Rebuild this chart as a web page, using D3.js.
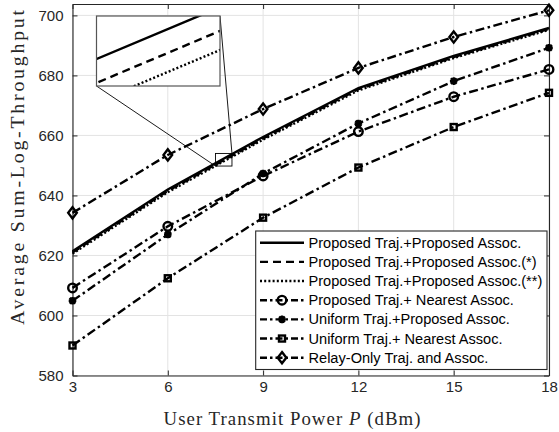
<!DOCTYPE html>
<html>
<head>
<meta charset="utf-8">
<script src="https://cdn.jsdelivr.net/npm/d3@7/dist/d3.min.js"></script>
<style>
  html, body { margin: 0; padding: 0; background: #fff; }
  svg { display: block; }
</style>
</head>
<body>
<svg id="chart" width="559" height="432"></svg>
<script>
// Transmit power (dBm) on the x axis
const powerDbm = [3, 6, 9, 12, 15, 18];
const xTicks = [3, 6, 9, 12, 15, 18];
const yTicks = [580, 600, 620, 640, 660, 680, 700];

// Average sum-log-throughput for each scheme
const propPropVals   = [621.4, 642.0, 659.5, 675.8, 686.5, 695.8];
const propPropStar   = [621.0, 641.5, 659.0, 675.4, 686.1, 695.5];
const propPropStar2  = [620.6, 641.1, 658.6, 675.0, 685.8, 695.2];
const propNearVals   = [609.2, 629.7, 646.5, 661.3, 672.9, 682.0];
const unifPropVals   = [604.9, 627.0, 647.3, 664.0, 678.1, 689.2];
const unifNearVals   = [590.0, 612.4, 632.6, 649.3, 662.8, 674.2];
const relayOnlyVals  = [634.2, 653.5, 668.8, 682.5, 692.8, 701.7];

const seriesNames = [
  "Proposed Traj.+Proposed Assoc.",
  "Proposed Traj.+Proposed Assoc.(*)",
  "Proposed Traj.+Proposed Assoc.(**)",
  "Proposed Traj.+ Nearest Assoc.",
  "Uniform Traj.+Proposed Assoc.",
  "Uniform Traj.+ Nearest Assoc.",
  "Relay-Only Traj. and Assoc."
];

// Region highlighted by the small rectangle and the magnified view shown in the inset
const markBoxX = [7.5, 8.02];
const markBoxY = [649.8, 654.0];
const insetX = [7.65, 7.837];
const insetY = [651.06, 652.53];

const DASHDOT = "9,3.5,2.5,3.5";
const LW = 2.4;
const series = [
  { name: seriesNames[0], values: propPropVals,  dash: null,      marker: null },
  { name: seriesNames[1], values: propPropStar,  dash: "8,5",     marker: null },
  { name: seriesNames[2], values: propPropStar2, dash: "2,2.2",   marker: null },
  { name: seriesNames[3], values: propNearVals,  dash: DASHDOT,   marker: "circle" },
  { name: seriesNames[4], values: unifPropVals,  dash: DASHDOT,   marker: "asterisk" },
  { name: seriesNames[5], values: unifNearVals,  dash: DASHDOT,   marker: "square" },
  { name: seriesNames[6], values: relayOnlyVals, dash: DASHDOT,   marker: "diamond" }
];

const svg = d3.select("#chart");
const plot = { left: 72.5, right: 549, top: 4, bottom: 375.5 };
const AXIS = "#262626";

const x = d3.scaleLinear().domain([3, 18]).range([plot.left, plot.right]);
const y = d3.scaleLinear().domain([580, 703.8]).range([plot.bottom, plot.top]);

// grid
const grid = svg.append("g").attr("stroke", "#e3e3e3").attr("stroke-width", 1);
grid.selectAll(".gx").data(xTicks).join("line")
  .attr("x1", d => x(d)).attr("x2", d => x(d))
  .attr("y1", plot.top).attr("y2", plot.bottom);
grid.selectAll(".gy").data(yTicks).join("line")
  .attr("x1", plot.left).attr("x2", plot.right)
  .attr("y1", d => y(d)).attr("y2", d => y(d));

// axes (ticks point inward, on all four sides)
function styleAxis(g) {
  g.selectAll("path, line").attr("stroke", AXIS);
  g.selectAll("text").attr("fill", AXIS)
    .style("font-family", "'Liberation Sans', Arial, sans-serif")
    .style("font-size", "15px");
}
svg.append("g").attr("transform", `translate(0,${plot.bottom})`)
  .call(d3.axisBottom(x).tickValues(xTicks).tickSizeInner(-5).tickSizeOuter(0).tickPadding(6))
  .call(styleAxis);
svg.append("g").attr("transform", `translate(0,${plot.top})`)
  .call(d3.axisTop(x).tickValues(xTicks).tickSizeInner(-5).tickSizeOuter(0).tickFormat(""))
  .call(styleAxis);
svg.append("g").attr("transform", `translate(${plot.left},0)`)
  .call(d3.axisLeft(y).tickValues(yTicks).tickSizeInner(-5).tickSizeOuter(0).tickPadding(9))
  .call(styleAxis);
svg.append("g").attr("transform", `translate(${plot.right},0)`)
  .call(d3.axisRight(y).tickValues(yTicks).tickSizeInner(-5).tickSizeOuter(0).tickFormat(""))
  .call(styleAxis);
svg.selectAll(".domain").attr("stroke-width", 1.1);

// marker drawing
function drawMarker(g, type, cx, cy) {
  const common = s => s.attr("fill", "none").attr("stroke", "#000").attr("stroke-width", LW);
  if (type === "circle") {
    g.append("circle").attr("cx", cx).attr("cy", cy).attr("r", 4.3).call(common);
  } else if (type === "square") {
    g.append("rect").attr("x", cx - 3).attr("y", cy - 3).attr("width", 6).attr("height", 6).call(common);
  } else if (type === "diamond") {
    g.append("path").attr("d", `M${cx},${cy - 5.6}L${cx + 4.3},${cy}L${cx},${cy + 5.6}L${cx - 4.3},${cy}Z`).call(common);
  } else if (type === "asterisk") {
    const r = 3.8, rd = r * 0.75;
    g.append("path").attr("d",
      `M${cx - r},${cy}L${cx + r},${cy}M${cx},${cy - r}L${cx},${cy + r}` +
      `M${cx - rd},${cy - rd}L${cx + rd},${cy + rd}M${cx - rd},${cy + rd}L${cx + rd},${cy - rd}`)
      .call(common);
  }
}

// series lines
const line = d3.line().x((d, i) => x(powerDbm[i])).y(d => y(d));
const linesG = svg.append("g");
series.slice().reverse().forEach(s => {
  linesG.append("path").datum(s.values)
    .attr("d", line).attr("fill", "none").attr("stroke", "#000")
    .attr("stroke-width", LW).attr("stroke-dasharray", s.dash);
  if (s.marker) {
    s.values.forEach((v, i) => drawMarker(linesG, s.marker, x(powerDbm[i]), y(v)));
  }
});

// marked region and connectors to the inset
const inset = { left: 96.5, right: 220, top: 16, bottom: 86 };
const bx0 = x(markBoxX[0]), bx1 = x(markBoxX[1]);
const by0 = y(markBoxY[1]), by1 = y(markBoxY[0]);
svg.append("rect").attr("x", bx0).attr("y", by0)
  .attr("width", bx1 - bx0).attr("height", by1 - by0)
  .attr("fill", "none").attr("stroke", "#000").attr("stroke-width", 0.9);
svg.append("line").attr("x1", inset.left).attr("y1", inset.bottom).attr("x2", bx0).attr("y2", by1)
  .attr("stroke", "#000").attr("stroke-width", 0.9);
svg.append("line").attr("x1", inset.right).attr("y1", inset.top).attr("x2", bx1).attr("y2", by0)
  .attr("stroke", "#000").attr("stroke-width", 0.9);

// inset view
const ix = d3.scaleLinear().domain(insetX).range([inset.left, inset.right]);
const iy = d3.scaleLinear().domain(insetY).range([inset.bottom, inset.top]);
svg.append("clipPath").attr("id", "insetClip").append("rect")
  .attr("x", inset.left).attr("y", inset.top)
  .attr("width", inset.right - inset.left).attr("height", inset.bottom - inset.top);
svg.append("rect").attr("x", inset.left).attr("y", inset.top)
  .attr("width", inset.right - inset.left).attr("height", inset.bottom - inset.top)
  .attr("fill", "#fff");
const iline = d3.line().x((d, i) => ix(powerDbm[i])).y(d => iy(d));
const insetG = svg.append("g").attr("clip-path", "url(#insetClip)");
series.slice(0, 3).forEach(s => {
  insetG.append("path").datum(s.values).attr("d", iline)
    .attr("fill", "none").attr("stroke", "#000").attr("stroke-width", 2.4)
    .attr("stroke-dasharray", s.dash);
});
svg.append("rect").attr("x", inset.left).attr("y", inset.top)
  .attr("width", inset.right - inset.left).attr("height", inset.bottom - inset.top)
  .attr("fill", "none").attr("stroke", "#555").attr("stroke-width", 1.2);

// legend
const lg = { left: 255.7, right: 547, top: 231, bottom: 369.5 };
const legend = svg.append("g");
legend.append("rect").attr("x", lg.left).attr("y", lg.top)
  .attr("width", lg.right - lg.left).attr("height", lg.bottom - lg.top)
  .attr("fill", "#fff").attr("stroke", AXIS).attr("stroke-width", 1.1);
const rowY = d3.scaleLinear().domain([0, 6]).range([242.7, 357.7]);
const legendTexts = [];
series.forEach((s, i) => {
  const yy = rowY(i);
  legend.append("line").attr("x1", 260).attr("x2", 304).attr("y1", yy).attr("y2", yy)
    .attr("stroke", "#000").attr("stroke-width", LW)
    .attr("stroke-dasharray", s.marker ? "7,3,2.5,3" : s.dash);
  if (s.marker) drawMarker(legend, s.marker, 282, yy);
  legendTexts.push(legend.append("text").attr("x", 308.5).attr("y", yy).attr("dy", "0.35em")
    .style("font-family", "'Liberation Sans', Arial, sans-serif")
    .style("font-size", "14px").attr("fill", "#000")
    .text(s.name));
});
// size the legend font so the longest entry ends just inside the frame
const longest = d3.max(legendTexts, t => t.node().getComputedTextLength());
const legendFont = Math.min(14.6, 14 * 234 / longest);
legendTexts.forEach(t => t.style("font-size", legendFont + "px"));

// axis titles
const xt = svg.append("text").attr("x", 292).attr("y", 425).attr("text-anchor", "middle")
  .attr("textLength", 257).attr("lengthAdjust", "spacing")
  .style("font-family", "'Liberation Serif', 'Times New Roman', serif")
  .style("font-size", "18.8px").attr("fill", AXIS);
xt.append("tspan").text("User Transmit Power ");
xt.append("tspan").style("font-style", "italic").text("P");
xt.append("tspan").text(" (dBm)");

svg.append("text").attr("transform", "translate(23.5,167.5) rotate(-90)")
  .attr("text-anchor", "middle")
  .attr("textLength", 315).attr("lengthAdjust", "spacing")
  .style("font-family", "'Liberation Serif', 'Times New Roman', serif")
  .style("font-size", "19.8px").attr("fill", AXIS)
  .text("Average Sum-Log-Throughput");
</script>
</body>
</html>
